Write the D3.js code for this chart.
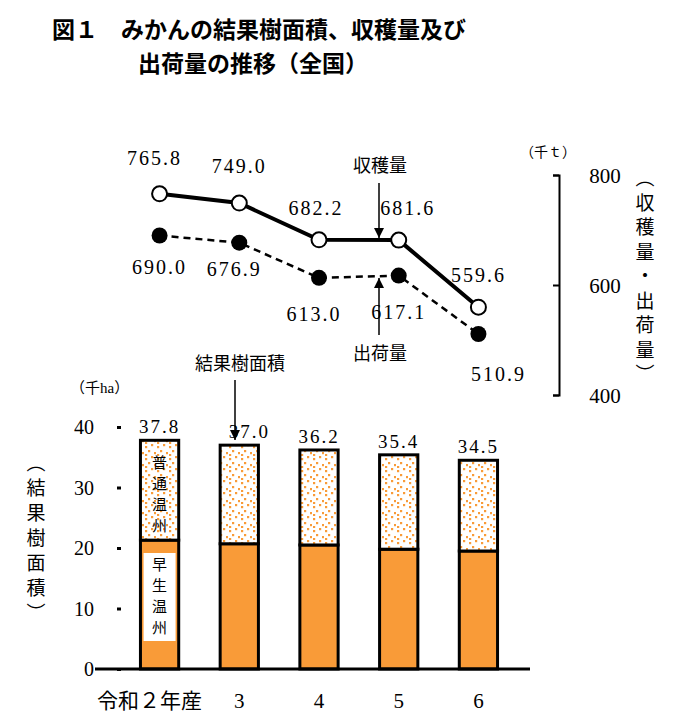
<!DOCTYPE html><html><head><meta charset="utf-8"><script src="https://cdn.jsdelivr.net/npm/d3@7"></script>
<style>body{margin:0;background:#fff}text{font-family:"Liberation Serif","Noto Sans CJK JP",serif}</style></head><body>
<svg id="c" width="674" height="723"></svg>
<script>
const years=["令和２年産","3","4","5","6"];
const harvest=[765.8,749.0,682.2,681.6,559.6];
const shipped=[690.0,676.9,613.0,617.1,510.9];
const area=[37.8,37.0,36.2,35.4,34.5];
const early=[21.3,20.7,20.5,19.8,19.5];
const leftTicks=[0,10,20,30,40];
const rightTicks=[400,600,800];
const svg=d3.select("#c");
const orange="#F99B38";
const defs=svg.append("defs");
const p=defs.append("pattern").attr("id","dots").attr("width",12).attr("height",12).attr("patternUnits","userSpaceOnUse");
p.append("rect").attr("width",12).attr("height",12).attr("fill","#fff");
[[1,2],[7,0],[4,6],[10,8],[1,10]].forEach(d=>p.append("rect").attr("x",d[0]).attr("y",d[1]).attr("width",2.2).attr("height",2.2).attr("fill",orange));
const t=(x,y,s,size,anchor)=>svg.append("text").attr("x",x).attr("y",y).attr("font-size",size||17).attr("text-anchor",anchor||"middle").text(s);
t(52,38,"図１　みかんの結果樹面積、収穫量及び",23,"start").attr("font-weight","bold").attr("font-family","Noto Sans CJK JP");
t(138,72,"出荷量の推移（全国）",23,"start").attr("font-weight","bold").attr("font-family","Noto Sans CJK JP");
const x=d3.scaleBand().domain(years).range([99,539]).padding(0.52);
const cx=d=>x(d)+x.bandwidth()/2;
const y=d3.scaleLinear().domain([0,40]).range([669,427]);
years.forEach((d,i)=>{
 svg.append("rect").attr("x",x(d)).attr("y",y(early[i])).attr("width",x.bandwidth()).attr("height",y(0)-y(early[i])).attr("fill",orange).attr("stroke","#000").attr("stroke-width",3);
 svg.append("rect").attr("x",x(d)).attr("y",y(area[i])).attr("width",x.bandwidth()).attr("height",y(early[i])-y(area[i])).attr("fill","url(#dots)").attr("stroke","#000").attr("stroke-width",3);
 t(cx(d)+(i==1?10:0),y(area[i])-7,area[i].toFixed(1),19).attr("letter-spacing",2);
});
const ly=svg.append("g").attr("transform","translate(120,0)").call(d3.axisRight(y).tickValues(leftTicks).tickSize(4).tickFormat(""));
ly.select(".domain").remove();ly.selectAll("line").attr("stroke","#000").attr("stroke-width",3).attr("transform","translate(-3,0)");
leftTicks.forEach(v=>t(94,y(v)+7,v,20,"end"));
svg.append("line").attr("x1",95).attr("x2",530).attr("y1",669).attr("y2",669).attr("stroke","#000").attr("stroke-width",3);
years.forEach((d,i)=>t(i==0?cx(d)-10:cx(d),708,d,21));
t(70,393,"（千ha）",15,"start");
["︵","結","果","樹","面","積","︶"].forEach((c,i)=>t(36,470+i*25,c,19).attr("font-family","Noto Sans CJK JP"));
const bx=cx(years[0]);
svg.append("rect").attr("x",bx-16).attr("y",553).attr("width",32).attr("height",88).attr("fill","#fff");
["普","通","温","州"].forEach((c,i)=>t(bx,468+i*21,c,15).attr("font-family","Noto Sans CJK JP"));
["早","生","温","州"].forEach((c,i)=>t(bx,570+i*21,c,15).attr("font-family","Noto Sans CJK JP"));
const yr=d3.scaleLinear().domain([400,800]).range([395,175]);
const line=d3.line().x((d,i)=>cx(years[i])).y(d=>yr(d));
svg.append("path").attr("d",line(shipped)).attr("fill","none").attr("stroke","#000").attr("stroke-width",2.5).attr("stroke-dasharray","7,5");
svg.append("path").attr("d",line(harvest)).attr("fill","none").attr("stroke","#000").attr("stroke-width",4);
shipped.forEach((v,i)=>svg.append("circle").attr("cx",cx(years[i])).attr("cy",yr(v)).attr("r",8).attr("fill","#000"));
harvest.forEach((v,i)=>svg.append("circle").attr("cx",cx(years[i])).attr("cy",yr(v)).attr("r",7.5).attr("fill","#fff").attr("stroke","#000").attr("stroke-width",2));
const hl=[[-5,-29],[0,-30],[-3,-25],[9,-25],[0,-25]];
harvest.forEach((v,i)=>t(cx(years[i])+hl[i][0],yr(v)+hl[i][1],v.toFixed(1),20).attr("letter-spacing",2));
const sl=[[0,38],[-5,33],[-5,43],[0,43],[20,47]];
shipped.forEach((v,i)=>t(cx(years[i])+sl[i][0],yr(v)+sl[i][1],v.toFixed(1),20).attr("letter-spacing",2));
const ax=svg.append("g").attr("transform","translate(559,0)").call(d3.axisLeft(yr).tickValues(rightTicks).tickSize(6).tickFormat("").tickSizeOuter(6));
ax.selectAll("path,line").attr("stroke","#000").attr("stroke-width",2);
rightTicks.forEach(v=>t(605,yr(v)+8,v,21));
t(548,157,"（千ｔ）",14).attr("font-family","Noto Sans CJK JP");
["︵","収","穫","量","・","出","荷","量","︶"].forEach((c,i)=>t(645,185+i*24.5,c,19).attr("font-family","Noto Sans CJK JP"));
const arrow=(x1,y1,x2,y2)=>{svg.append("line").attr("x1",x1).attr("y1",y1).attr("x2",x2).attr("y2",y2).attr("stroke","#000").attr("stroke-width",1.5);
 const dir=y2>y1?1:-1;svg.append("path").attr("d",`M${x2-5},${y2-10*dir}L${x2+5},${y2-10*dir}L${x2},${y2}Z`).attr("fill","#000");};
t(380,172,"収穫量",18).attr("font-family","Noto Sans CJK JP");arrow(379,183,379,238);
t(380,360,"出荷量",18).attr("font-family","Noto Sans CJK JP");arrow(379,335,379,278);
t(240,370,"結果樹面積",18).attr("font-family","Noto Sans CJK JP");arrow(235,380,235,440);
</script></body></html>
